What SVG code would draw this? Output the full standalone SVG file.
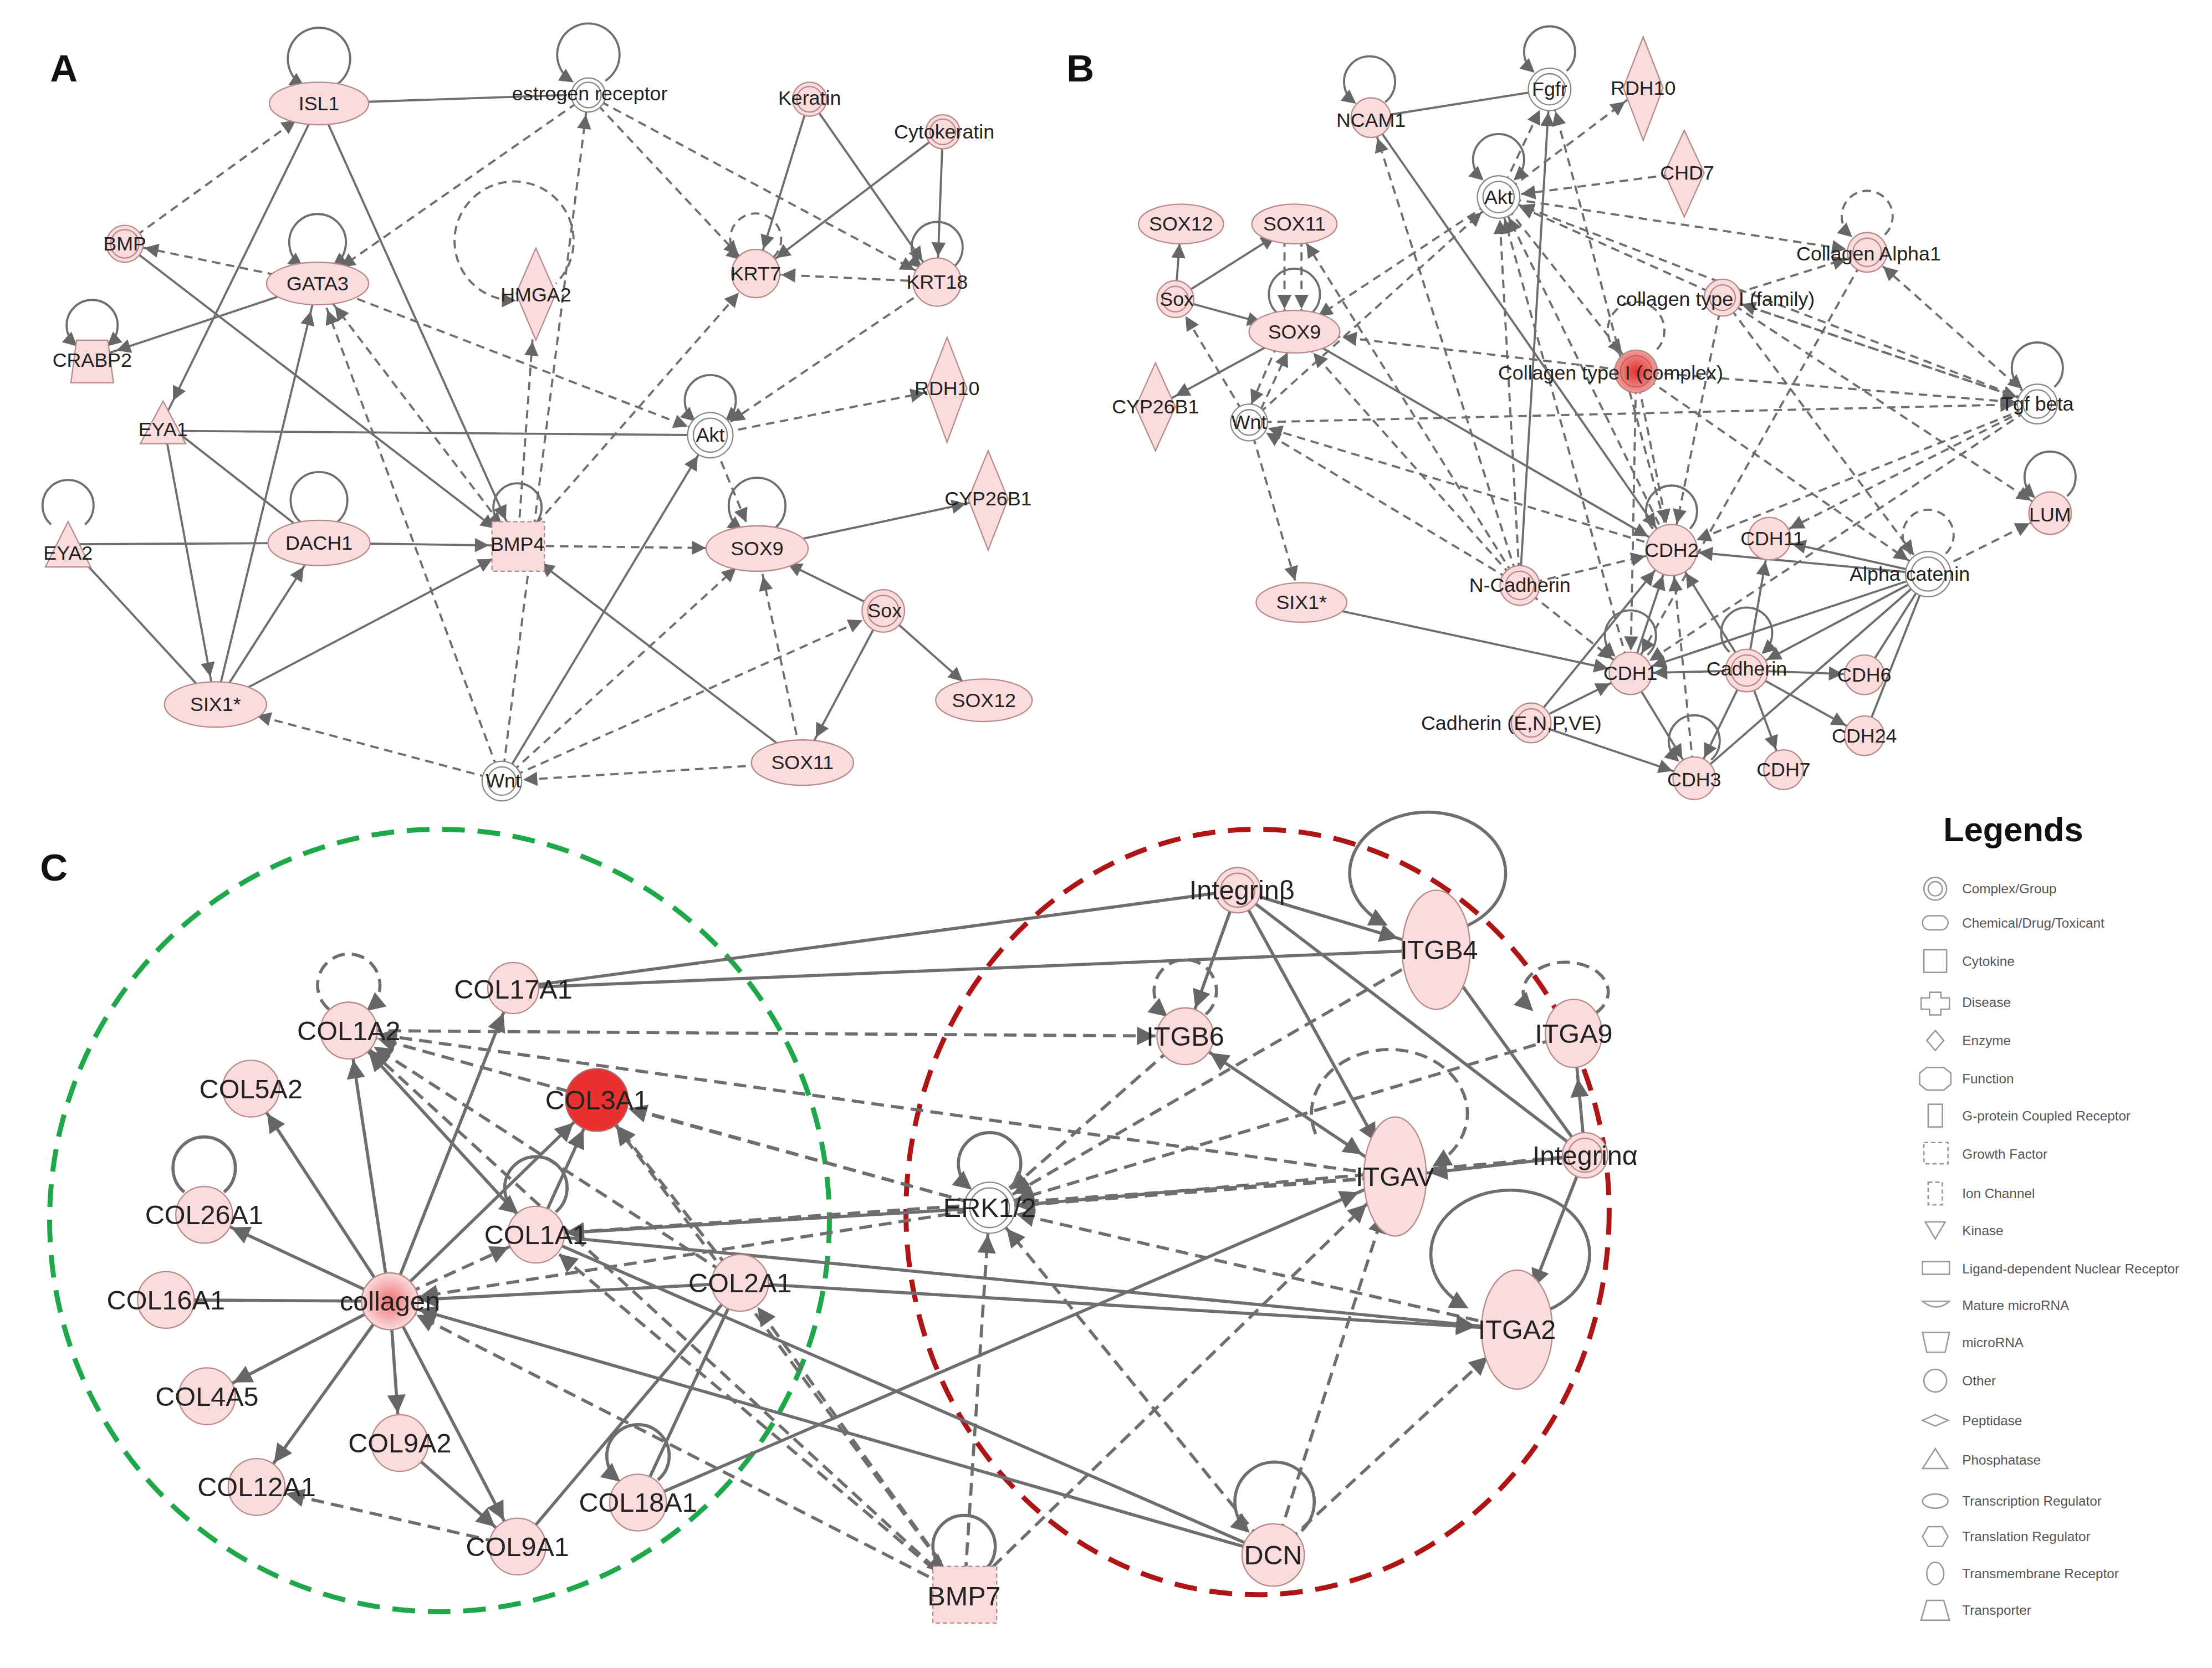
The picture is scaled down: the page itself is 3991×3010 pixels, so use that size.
<svg xmlns="http://www.w3.org/2000/svg" width="3991" height="3010" viewBox="0 0 3991 3010">
<style>
.s{stroke:#6e6e6e;stroke-width:1.5;fill:none}
.d{stroke:#6e6e6e;stroke-width:1.5;fill:none;stroke-dasharray:6,4}
.sc{stroke:#6e6e6e;stroke-width:2.2;fill:none}
.dc{stroke:#6e6e6e;stroke-width:2.2;fill:none;stroke-dasharray:9,5}
.n{fill:#fadcdc;stroke:#b88a8a;stroke-width:0.9}
.w{fill:#fff;stroke:#888;stroke-width:0.9}
.t{font-family:"Liberation Sans",Arial,sans-serif;font-size:14px;fill:#222;text-anchor:middle;dominant-baseline:central}
.tc{font-family:"Liberation Sans",Arial,sans-serif;font-size:19px;fill:#222;text-anchor:middle;dominant-baseline:central}
.lg{font-family:"Liberation Sans",Arial,sans-serif;font-size:9.5px;fill:#555;dominant-baseline:central}
.ls{fill:none;stroke:#999;stroke-width:1}
.pl{font-family:"Liberation Sans",Arial,sans-serif;font-size:27px;font-weight:bold;fill:#111;text-anchor:middle;dominant-baseline:central}
</style>
<defs>
<marker id="a0" markerUnits="userSpaceOnUse" markerWidth="30" markerHeight="20" refX="8" refY="5" orient="auto-start-reverse" overflow="visible"><path d="M0,0L10,5L0,10z" fill="#666"/></marker>
<marker id="a14" markerUnits="userSpaceOnUse" markerWidth="30" markerHeight="20" refX="24" refY="5" orient="auto-start-reverse" overflow="visible"><path d="M0,0L10,5L0,10z" fill="#666"/></marker>
<marker id="a15" markerUnits="userSpaceOnUse" markerWidth="30" markerHeight="20" refX="25" refY="5" orient="auto-start-reverse" overflow="visible"><path d="M0,0L10,5L0,10z" fill="#666"/></marker>
<marker id="a16" markerUnits="userSpaceOnUse" markerWidth="30" markerHeight="20" refX="26" refY="5" orient="auto-start-reverse" overflow="visible"><path d="M0,0L10,5L0,10z" fill="#666"/></marker>
<marker id="a17" markerUnits="userSpaceOnUse" markerWidth="30" markerHeight="20" refX="27" refY="5" orient="auto-start-reverse" overflow="visible"><path d="M0,0L10,5L0,10z" fill="#666"/></marker>
<marker id="a18" markerUnits="userSpaceOnUse" markerWidth="30" markerHeight="20" refX="28" refY="5" orient="auto-start-reverse" overflow="visible"><path d="M0,0L10,5L0,10z" fill="#666"/></marker>
<marker id="a19" markerUnits="userSpaceOnUse" markerWidth="30" markerHeight="20" refX="29" refY="5" orient="auto-start-reverse" overflow="visible"><path d="M0,0L10,5L0,10z" fill="#666"/></marker>
<marker id="a20" markerUnits="userSpaceOnUse" markerWidth="30" markerHeight="20" refX="30" refY="5" orient="auto-start-reverse" overflow="visible"><path d="M0,0L10,5L0,10z" fill="#666"/></marker>
<marker id="a24" markerUnits="userSpaceOnUse" markerWidth="30" markerHeight="20" refX="34" refY="5" orient="auto-start-reverse" overflow="visible"><path d="M0,0L10,5L0,10z" fill="#666"/></marker>
<marker id="a30" markerUnits="userSpaceOnUse" markerWidth="30" markerHeight="20" refX="40" refY="5" orient="auto-start-reverse" overflow="visible"><path d="M0,0L10,5L0,10z" fill="#666"/></marker>
<marker id="a34" markerUnits="userSpaceOnUse" markerWidth="30" markerHeight="20" refX="44" refY="5" orient="auto-start-reverse" overflow="visible"><path d="M0,0L10,5L0,10z" fill="#666"/></marker>
<marker id="a36" markerUnits="userSpaceOnUse" markerWidth="30" markerHeight="20" refX="46" refY="5" orient="auto-start-reverse" overflow="visible"><path d="M0,0L10,5L0,10z" fill="#666"/></marker>
<marker id="c0" markerUnits="userSpaceOnUse" markerWidth="30" markerHeight="20" refX="11" refY="6.5" orient="auto-start-reverse" overflow="visible"><path d="M0,0L13,6.5L0,13z" fill="#666"/></marker>
<marker id="c19" markerUnits="userSpaceOnUse" markerWidth="30" markerHeight="20" refX="32" refY="6.5" orient="auto-start-reverse" overflow="visible"><path d="M0,0L13,6.5L0,13z" fill="#666"/></marker>
<marker id="c21" markerUnits="userSpaceOnUse" markerWidth="30" markerHeight="20" refX="34" refY="6.5" orient="auto-start-reverse" overflow="visible"><path d="M0,0L13,6.5L0,13z" fill="#666"/></marker>
<marker id="c23" markerUnits="userSpaceOnUse" markerWidth="30" markerHeight="20" refX="36" refY="6.5" orient="auto-start-reverse" overflow="visible"><path d="M0,0L13,6.5L0,13z" fill="#666"/></marker>
<marker id="c24" markerUnits="userSpaceOnUse" markerWidth="30" markerHeight="20" refX="37" refY="6.5" orient="auto-start-reverse" overflow="visible"><path d="M0,0L13,6.5L0,13z" fill="#666"/></marker>
<marker id="c28" markerUnits="userSpaceOnUse" markerWidth="30" markerHeight="20" refX="41" refY="6.5" orient="auto-start-reverse" overflow="visible"><path d="M0,0L13,6.5L0,13z" fill="#666"/></marker>
<marker id="c30" markerUnits="userSpaceOnUse" markerWidth="30" markerHeight="20" refX="43" refY="6.5" orient="auto-start-reverse" overflow="visible"><path d="M0,0L13,6.5L0,13z" fill="#666"/></marker>
<marker id="c32" markerUnits="userSpaceOnUse" markerWidth="30" markerHeight="20" refX="45" refY="6.5" orient="auto-start-reverse" overflow="visible"><path d="M0,0L13,6.5L0,13z" fill="#666"/></marker>
<radialGradient id="red1"><stop offset="0" stop-color="#e0302a"/><stop offset="1" stop-color="#f29a98"/></radialGradient>
<radialGradient id="red2"><stop offset="0" stop-color="#f07070"/><stop offset="1" stop-color="#fadcdc"/></radialGradient>
</defs>
<rect width="3991" height="3010" fill="#fff"/>
<g transform="scale(2.558)">
<text class="pl" x="45" y="48">A</text>
<text class="pl" x="762" y="48">B</text>
<text class="pl" x="38" y="612">C</text>

<g id="connectors-A">
<line class="s" x1="225" y1="73" x2="400" y2="67"/>
<line class="d" x1="88" y1="172" x2="225" y2="73" marker-end="url(#a20)"/>
<line class="s" x1="225" y1="73" x2="115" y2="297" marker-end="url(#a16)"/>
<line class="s" x1="225" y1="73" x2="365" y2="385" marker-end="url(#a20)"/>
<line class="d" x1="415" y1="67" x2="224" y2="200" marker-end="url(#a20)"/>
<line class="d" x1="415" y1="67" x2="533" y2="193" marker-end="url(#a18)"/>
<line class="d" x1="415" y1="67" x2="661" y2="199" marker-end="url(#a18)"/>
<line class="d" x1="354" y1="551" x2="415" y2="67" marker-end="url(#a14)"/>
<line class="s" x1="571" y1="70" x2="533" y2="193" marker-end="url(#a18)"/>
<line class="s" x1="571" y1="70" x2="661" y2="199" marker-end="url(#a18)"/>
<line class="s" x1="665" y1="93" x2="533" y2="193" marker-end="url(#a18)"/>
<line class="s" x1="665" y1="93" x2="661" y2="199" marker-end="url(#a18)"/>
<line class="d" x1="661" y1="199" x2="533" y2="193" marker-end="url(#a18)"/>
<line class="d" x1="661" y1="199" x2="501" y2="307" marker-end="url(#a17)"/>
<line class="d" x1="224" y1="200" x2="88" y2="172" marker-end="url(#a14)"/>
<line class="s" x1="224" y1="200" x2="65" y2="253" marker-end="url(#a18)"/>
<line class="d" x1="224" y1="200" x2="501" y2="307" marker-end="url(#a17)"/>
<line class="s" x1="88" y1="172" x2="365" y2="385" marker-end="url(#a20)"/>
<line class="s" x1="152" y1="497" x2="224" y2="200" marker-end="url(#a20)"/>
<line class="d" x1="365" y1="385" x2="224" y2="200" marker-end="url(#a20)"/>
<line class="d" x1="354" y1="551" x2="224" y2="200" marker-end="url(#a20)"/>
<line class="d" x1="365" y1="385" x2="378" y2="207" marker-end="url(#a34)"/>
<line class="d" x1="365" y1="385" x2="533" y2="193" marker-end="url(#a18)"/>
<line class="s" x1="501" y1="307" x2="128" y2="304"/>
<line class="d" x1="501" y1="307" x2="668" y2="274" marker-end="url(#a16)"/>
<line class="d" x1="501" y1="307" x2="534" y2="387" marker-end="url(#a20)"/>
<line class="s" x1="115" y1="297" x2="152" y2="497" marker-end="url(#a20)"/>
<line class="s" x1="225" y1="383" x2="115" y2="297"/>
<line class="s" x1="48" y1="384" x2="225" y2="383"/>
<line class="s" x1="48" y1="384" x2="152" y2="497"/>
<line class="s" x1="225" y1="383" x2="365" y2="385" marker-end="url(#a20)"/>
<line class="s" x1="152" y1="497" x2="225" y2="383" marker-end="url(#a20)"/>
<line class="s" x1="152" y1="497" x2="365" y2="385" marker-end="url(#a20)"/>
<line class="d" x1="365" y1="385" x2="534" y2="387" marker-end="url(#a36)"/>
<line class="s" x1="534" y1="387" x2="697" y2="352" marker-end="url(#a16)"/>
<line class="s" x1="623" y1="431" x2="534" y2="387" marker-end="url(#a24)"/>
<line class="s" x1="623" y1="431" x2="694" y2="494" marker-end="url(#a20)"/>
<line class="s" x1="623" y1="431" x2="566" y2="538" marker-end="url(#a20)"/>
<line class="d" x1="566" y1="538" x2="534" y2="387" marker-end="url(#a20)"/>
<line class="s" x1="566" y1="538" x2="365" y2="385" marker-end="url(#a20)"/>
<line class="d" x1="566" y1="538" x2="354" y2="551" marker-end="url(#a15)"/>
<line class="d" x1="354" y1="551" x2="152" y2="497" marker-end="url(#a30)"/>
<line class="s" x1="354" y1="551" x2="501" y2="307" marker-end="url(#a17)"/>
<line class="d" x1="354" y1="551" x2="534" y2="387" marker-end="url(#a20)"/>
<line class="d" x1="354" y1="551" x2="623" y2="431" marker-end="url(#a16)"/>
<path class="s" d="M213,60 A22 22 0 1 1 237,60" marker-start="url(#a0)"/>
<path class="s" d="M403,57 A22 22 0 1 1 427,57" marker-start="url(#a0)"/>
<path class="s" d="M212,187 A20 20 0 1 1 236,187" marker-start="url(#a0)" marker-end="url(#a0)"/>
<path class="d" d="M362,212 A42 42 0 1 1 392,200" marker-start="url(#a0)"/>
<path class="d" d="M521,182 A18 18 0 1 1 545,182" marker-start="url(#a0)"/>
<path class="s" d="M649,188 A18 18 0 1 1 673,188" marker-start="url(#a0)"/>
<path class="s" d="M53,243 A18 18 0 1 1 77,243" marker-start="url(#a0)" marker-end="url(#a0)"/>
<path class="s" d="M489,296 A18 18 0 1 1 513,296" marker-start="url(#a0)" marker-end="url(#a0)"/>
<path class="s" d="M36,370 A18 18 0 1 1 60,370"/>
<path class="s" d="M213,369 A20 20 0 1 1 237,369"/>
<path class="s" d="M353,370 A17 17 0 1 1 377,370" marker-start="url(#a0)"/>
<path class="s" d="M522,373 A20 20 0 1 1 546,373" marker-start="url(#a0)"/>
</g>

<g id="nodes-A">
<g id="A-ISL1"><ellipse class="n" cx="225" cy="73" rx="35" ry="15"/><text class="t" x="225" y="73">ISL1</text></g>
<g id="A-ER"><circle class="w" cx="415" cy="67" r="12"/><circle class="w" cx="415" cy="67" r="9"/><text class="t" x="416" y="66">estrogen receptor</text></g>
<g id="A-Keratin"><circle class="n" cx="571" cy="70" r="12"/><circle class="n" cx="571" cy="70" r="9"/><text class="t" x="571" y="69">Keratin</text></g>
<g id="A-Cytokeratin"><circle class="n" cx="665" cy="93" r="12"/><circle class="n" cx="665" cy="93" r="9"/><text class="t" x="666" y="93">Cytokeratin</text></g>
<g id="A-BMP"><circle class="n" cx="88" cy="172" r="13"/><circle class="n" cx="88" cy="172" r="10"/><text class="t" x="88" y="172">BMP</text></g>
<g id="A-GATA3"><ellipse class="n" cx="224" cy="200" rx="36" ry="15"/><text class="t" x="224" y="200">GATA3</text></g>
<g id="A-HMGA2"><path class="n" d="M378,175 L392,207 L378,240 L364,207z"/><text class="t" x="378" y="208">HMGA2</text></g>
<g id="A-KRT7"><circle class="n" cx="533" cy="193" r="17"/><text class="t" x="533" y="193">KRT7</text></g>
<g id="A-KRT18"><circle class="n" cx="661" cy="199" r="17"/><text class="t" x="661" y="199">KRT18</text></g>
<g id="A-CRABP2"><path class="n" d="M54,240 L76,240 L80,270 L50,270z"/><text class="t" x="65" y="254">CRABP2</text></g>
<g id="A-RDH10"><path class="n" d="M668,238 L682,274 L668,312 L654,274z"/><text class="t" x="668" y="274">RDH10</text></g>
<g id="A-Akt"><circle class="w" cx="501" cy="307" r="16"/><circle class="w" cx="501" cy="307" r="12"/><text class="t" x="501" y="307">Akt</text></g>
<g id="A-EYA1"><path class="n" d="M115,283 L131,313 L99,313z"/><text class="t" x="115" y="303">EYA1</text></g>
<g id="A-EYA2"><path class="n" d="M48,368 L64,400 L32,400z"/><text class="t" x="48" y="390">EYA2</text></g>
<g id="A-DACH1"><ellipse class="n" cx="225" cy="383" rx="36" ry="16"/><text class="t" x="225" y="383">DACH1</text></g>
<g id="A-BMP4"><rect class="n" x="347" y="368" width="37" height="35" stroke-dasharray="3,2"/><text class="t" x="365" y="384">BMP4</text></g>
<g id="A-CYP26B1"><path class="n" d="M697,318 L711,352 L697,388 L683,352z"/><text class="t" x="697" y="352">CYP26B1</text></g>
<g id="A-SOX9"><ellipse class="n" cx="534" cy="387" rx="36" ry="16"/><text class="t" x="534" y="387">SOX9</text></g>
<g id="A-Sox"><circle class="n" cx="623" cy="431" r="15"/><circle class="n" cx="623" cy="431" r="11"/><text class="t" x="624" y="431">Sox</text></g>
<g id="A-SIX1"><ellipse class="n" cx="152" cy="497" rx="36" ry="16"/><text class="t" x="152" y="497">SIX1*</text></g>
<g id="A-SOX12"><ellipse class="n" cx="694" cy="494" rx="34" ry="15"/><text class="t" x="694" y="494">SOX12</text></g>
<g id="A-SOX11"><ellipse class="n" cx="566" cy="538" rx="36" ry="16"/><text class="t" x="566" y="538">SOX11</text></g>
<g id="A-Wnt"><circle class="w" cx="354" cy="551" r="14"/><circle class="w" cx="354" cy="551" r="10"/><text class="t" x="355" y="551">Wnt</text></g>
</g>

<g id="connectors-B">
<line class="s" x1="967" y1="83" x2="1093" y2="63"/>
<line class="d" x1="1057" y1="139" x2="1159" y2="62" marker-end="url(#a16)"/>
<line class="d" x1="1057" y1="139" x2="1093" y2="63" marker-end="url(#a16)"/>
<line class="d" x1="1188" y1="122" x2="1057" y2="139" marker-end="url(#a16)"/>
<line class="d" x1="1057" y1="139" x2="1317" y2="178" marker-end="url(#a15)"/>
<line class="d" x1="1215" y1="210" x2="1057" y2="139" marker-end="url(#a16)"/>
<line class="d" x1="1437" y1="285" x2="1057" y2="139" marker-end="url(#a16)"/>
<line class="d" x1="1057" y1="139" x2="1154" y2="262" marker-end="url(#a16)"/>
<line class="d" x1="1057" y1="139" x2="913" y2="234" marker-end="url(#a20)"/>
<line class="d" x1="881" y1="298" x2="1057" y2="139" marker-end="url(#a16)"/>
<line class="s" x1="829" y1="211" x2="833" y2="158" marker-end="url(#a14)"/>
<line class="s" x1="829" y1="211" x2="913" y2="158" marker-end="url(#a16)"/>
<line class="s" x1="829" y1="211" x2="913" y2="234" marker-end="url(#a24)"/>
<line class="d" x1="906" y1="158" x2="906" y2="234" marker-end="url(#a16)"/>
<line class="d" x1="918" y1="158" x2="918" y2="234" marker-end="url(#a16)"/>
<line class="s" x1="913" y1="234" x2="815" y2="287" marker-end="url(#a16)"/>
<line class="d" x1="905" y1="234" x2="877" y2="298" marker-end="url(#a14)"/>
<line class="d" x1="885" y1="298" x2="915" y2="234" marker-end="url(#a16)"/>
<line class="d" x1="881" y1="298" x2="829" y2="211" marker-end="url(#a14)"/>
<line class="d" x1="881" y1="298" x2="918" y2="425" marker-end="url(#a16)"/>
<line class="d" x1="1072" y1="413" x2="913" y2="158" marker-end="url(#a16)"/>
<line class="d" x1="1072" y1="413" x2="913" y2="234" marker-end="url(#a20)"/>
<line class="s" x1="913" y1="234" x2="1179" y2="388" marker-end="url(#a19)"/>
<line class="d" x1="1154" y1="262" x2="913" y2="234" marker-end="url(#a34)"/>
<line class="d" x1="881" y1="298" x2="1437" y2="285" marker-end="url(#a16)"/>
<line class="d" x1="1179" y1="388" x2="881" y2="298" marker-end="url(#a14)"/>
<line class="d" x1="1072" y1="413" x2="881" y2="298" marker-end="url(#a14)"/>
<line class="s" x1="967" y1="83" x2="1179" y2="388" marker-end="url(#a19)"/>
<line class="d" x1="1072" y1="413" x2="967" y2="83" marker-end="url(#a15)"/>
<line class="s" x1="1072" y1="413" x2="1093" y2="63" marker-end="url(#a16)"/>
<line class="d" x1="1179" y1="388" x2="1093" y2="63" marker-end="url(#a16)"/>
<line class="d" x1="1072" y1="413" x2="1057" y2="139" marker-end="url(#a16)"/>
<line class="d" x1="1179" y1="388" x2="1057" y2="139" marker-end="url(#a16)"/>
<line class="d" x1="1150" y1="475" x2="1057" y2="139" marker-end="url(#a16)"/>
<line class="d" x1="1154" y1="262" x2="1179" y2="388" marker-end="url(#a19)"/>
<line class="d" x1="1154" y1="262" x2="1150" y2="475" marker-end="url(#a16)"/>
<line class="d" x1="1154" y1="262" x2="1360" y2="405" marker-end="url(#a17)"/>
<line class="d" x1="1154" y1="262" x2="1437" y2="285" marker-end="url(#a15)"/>
<line class="d" x1="1215" y1="210" x2="1317" y2="178" marker-end="url(#a15)"/>
<line class="d" x1="1215" y1="210" x2="1437" y2="285" marker-end="url(#a15)"/>
<line class="d" x1="1215" y1="210" x2="1179" y2="388" marker-end="url(#a19)"/>
<line class="d" x1="1215" y1="210" x2="1360" y2="405" marker-end="url(#a17)"/>
<line class="d" x1="1215" y1="210" x2="1446" y2="362" marker-end="url(#a16)"/>
<line class="d" x1="1317" y1="178" x2="1150" y2="475" marker-end="url(#a16)"/>
<line class="d" x1="1437" y1="285" x2="1317" y2="178" marker-end="url(#a15)"/>
<line class="d" x1="1437" y1="285" x2="1179" y2="388" marker-end="url(#a19)"/>
<line class="d" x1="1437" y1="285" x2="1248" y2="380" marker-end="url(#a16)"/>
<line class="d" x1="1437" y1="285" x2="1150" y2="475" marker-end="url(#a16)"/>
<line class="d" x1="1437" y1="285" x2="1215" y2="210" marker-end="url(#a14)"/>
<line class="d" x1="1360" y1="405" x2="1446" y2="362" marker-end="url(#a16)"/>
<line class="s" x1="1360" y1="405" x2="1179" y2="388" marker-end="url(#a19)"/>
<line class="s" x1="1360" y1="405" x2="1248" y2="380" marker-end="url(#a16)"/>
<line class="s" x1="1360" y1="405" x2="1150" y2="475" marker-end="url(#a16)"/>
<line class="s" x1="1360" y1="405" x2="1232" y2="473" marker-end="url(#a16)"/>
<line class="s" x1="1360" y1="405" x2="1315" y2="476"/>
<line class="s" x1="1360" y1="405" x2="1315" y2="519"/>
<line class="s" x1="1360" y1="405" x2="1195" y2="549"/>
<line class="s" x1="918" y1="425" x2="1150" y2="475" marker-end="url(#a16)"/>
<line class="s" x1="1150" y1="475" x2="1179" y2="388" marker-end="url(#a19)"/>
<line class="s" x1="1232" y1="473" x2="1179" y2="388" marker-end="url(#a19)"/>
<line class="d" x1="1195" y1="549" x2="1179" y2="388" marker-end="url(#a19)"/>
<line class="d" x1="1072" y1="413" x2="1179" y2="388" marker-end="url(#a19)"/>
<line class="d" x1="1072" y1="413" x2="1150" y2="475" marker-end="url(#a16)"/>
<line class="s" x1="1232" y1="473" x2="1150" y2="475" marker-end="url(#a16)"/>
<line class="s" x1="1232" y1="473" x2="1315" y2="476" marker-end="url(#a15)"/>
<line class="s" x1="1232" y1="473" x2="1315" y2="519" marker-end="url(#a15)"/>
<line class="s" x1="1232" y1="473" x2="1258" y2="543" marker-end="url(#a15)"/>
<line class="s" x1="1232" y1="473" x2="1195" y2="549" marker-end="url(#a16)"/>
<line class="s" x1="1232" y1="473" x2="1248" y2="380" marker-end="url(#a16)"/>
<line class="s" x1="1080" y1="510" x2="1150" y2="475" marker-end="url(#a16)"/>
<line class="s" x1="1080" y1="510" x2="1195" y2="549" marker-end="url(#a16)"/>
<line class="s" x1="1080" y1="510" x2="1179" y2="388" marker-end="url(#a19)"/>
<line class="s" x1="1150" y1="475" x2="1195" y2="549" marker-end="url(#a16)"/>
<path class="s" d="M955,72 A18 18 0 1 1 977,72" marker-start="url(#a0)"/>
<path class="s" d="M1081,50 A18 18 0 1 1 1105,50" marker-start="url(#a0)"/>
<path class="s" d="M1045,126 A18 18 0 1 1 1069,126" marker-start="url(#a0)" marker-end="url(#a0)"/>
<path class="s" d="M901,221 A18 18 0 1 1 925,221"/>
<path class="d" d="M1305,166 A18 18 0 1 1 1329,166" marker-start="url(#a0)"/>
<path class="d" d="M1142,249 A20 20 0 1 1 1166,249"/>
<path class="s" d="M1425,273 A18 18 0 1 1 1449,273" marker-start="url(#a0)"/>
<path class="s" d="M1434,350 A18 18 0 1 1 1458,350" marker-start="url(#a0)"/>
<path class="s" d="M1166,373 A18 18 0 1 1 1192,373"/>
<path class="d" d="M1348,391 A18 18 0 1 1 1372,391"/>
<path class="s" d="M1138,462 A18 18 0 1 1 1162,462" marker-start="url(#a0)"/>
<path class="s" d="M1220,460 A18 18 0 1 1 1244,460" marker-end="url(#a0)"/>
<path class="s" d="M1183,536 A18 18 0 1 1 1207,536" marker-start="url(#a0)"/>
</g>

<g id="nodes-B">
<g id="B-NCAM1"><circle class="n" cx="967" cy="83" r="14"/><text class="t" x="967" y="85">NCAM1</text></g>
<g id="B-Fgfr"><circle class="w" cx="1093" cy="63" r="15"/><circle class="w" cx="1093" cy="63" r="11"/><text class="t" x="1093" y="63">Fgfr</text></g>
<g id="B-RDH10"><path class="n" d="M1159,26 L1173,62 L1159,99 L1145,62z"/><text class="t" x="1159" y="62">RDH10</text></g>
<g id="B-CHD7"><path class="n" d="M1188,92 L1202,122 L1188,153 L1174,122z"/><text class="t" x="1190" y="122">CHD7</text></g>
<g id="B-Akt"><circle class="w" cx="1057" cy="139" r="15"/><circle class="w" cx="1057" cy="139" r="11"/><text class="t" x="1057" y="139">Akt</text></g>
<g id="B-SOX12"><ellipse class="n" cx="833" cy="158" rx="30" ry="14"/><text class="t" x="833" y="158">SOX12</text></g>
<g id="B-SOX11"><ellipse class="n" cx="913" cy="158" rx="30" ry="14"/><text class="t" x="913" y="158">SOX11</text></g>
<g id="B-CA1"><circle class="n" cx="1317" cy="178" r="14"/><circle class="n" cx="1317" cy="178" r="10"/><text class="t" x="1318" y="179">Collagen Alpha1</text></g>
<g id="B-Sox"><circle class="n" cx="829" cy="211" r="13"/><circle class="n" cx="829" cy="211" r="9"/><text class="t" x="830" y="211">Sox</text></g>
<g id="B-CF"><circle class="n" cx="1215" cy="210" r="13"/><circle class="n" cx="1215" cy="210" r="9"/><text class="t" x="1210" y="211">collagen type I (family)</text></g>
<g id="B-SOX9"><ellipse class="n" cx="913" cy="234" rx="32" ry="15"/><text class="t" x="913" y="234">SOX9</text></g>
<g id="B-CC"><circle cx="1154" cy="262" r="15" fill="url(#red1)" stroke="#b88a8a"/><circle cx="1154" cy="262" r="11" fill="none" stroke="#c06060" stroke-width="0.8"/><text class="t" x="1136" y="263">Collagen type I (complex)</text></g>
<g id="B-CYP26B1"><path class="n" d="M815,256 L829,287 L815,318 L801,287z"/><text class="t" x="815" y="287">CYP26B1</text></g>
<g id="B-Wnt"><circle class="w" cx="881" cy="298" r="13"/><circle class="w" cx="881" cy="298" r="9"/><text class="t" x="881" y="298">Wnt</text></g>
<g id="B-Tgf"><circle class="w" cx="1437" cy="285" r="14"/><circle class="w" cx="1437" cy="285" r="10"/><text class="t" x="1437" y="285">Tgf beta</text></g>
<g id="B-LUM"><circle class="n" cx="1446" cy="362" r="15"/><text class="t" x="1446" y="363">LUM</text></g>
<g id="B-CDH2"><circle class="n" cx="1179" cy="388" r="18"/><text class="t" x="1179" y="388">CDH2</text></g>
<g id="B-CDH11"><circle class="n" cx="1248" cy="380" r="15"/><text class="t" x="1250" y="380">CDH11</text></g>
<g id="B-AC"><circle class="w" cx="1360" cy="405" r="16"/><circle class="w" cx="1360" cy="405" r="12"/><text class="t" x="1347" y="405">Alpha catenin</text></g>
<g id="B-NCad"><circle class="n" cx="1072" cy="413" r="14"/><circle class="n" cx="1072" cy="413" r="10"/><text class="t" x="1072" y="413">N-Cadherin</text></g>
<g id="B-SIX1"><ellipse class="n" cx="918" cy="425" rx="32" ry="14"/><text class="t" x="918" y="425">SIX1*</text></g>
<g id="B-CDH1"><circle class="n" cx="1150" cy="475" r="15"/><text class="t" x="1150" y="475">CDH1</text></g>
<g id="B-Cadherin"><circle class="n" cx="1232" cy="473" r="15"/><circle class="n" cx="1232" cy="473" r="11"/><text class="t" x="1232" y="472">Cadherin</text></g>
<g id="B-CDH6"><circle class="n" cx="1315" cy="476" r="14"/><text class="t" x="1315" y="476">CDH6</text></g>
<g id="B-CENP"><circle class="n" cx="1080" cy="510" r="14"/><circle class="n" cx="1080" cy="510" r="10"/><text class="t" x="1066" y="510">Cadherin (E,N,P,VE)</text></g>
<g id="B-CDH24"><circle class="n" cx="1315" cy="519" r="14"/><text class="t" x="1315" y="519">CDH24</text></g>
<g id="B-CDH3"><circle class="n" cx="1195" cy="549" r="15"/><text class="t" x="1195" y="550">CDH3</text></g>
<g id="B-CDH7"><circle class="n" cx="1258" cy="543" r="14"/><text class="t" x="1258" y="543">CDH7</text></g>
</g>

<ellipse cx="310" cy="861" rx="275" ry="276" fill="none" stroke="#1fa84a" stroke-width="3.5" stroke-dasharray="16,9"/>
<ellipse cx="887" cy="855" rx="248" ry="270" fill="none" stroke="#b01515" stroke-width="3.5" stroke-dasharray="16,9"/>

<g id="connectors-C">
<line class="sc" x1="362" y1="697" x2="873" y2="628"/>
<line class="sc" x1="362" y1="697" x2="1013" y2="670"/>
<line class="sc" x1="873" y1="628" x2="1013" y2="670" marker-end="url(#c28)"/>
<line class="sc" x1="873" y1="628" x2="836" y2="731" marker-end="url(#c21)"/>
<line class="sc" x1="873" y1="628" x2="984" y2="830" marker-end="url(#c28)"/>
<line class="sc" x1="873" y1="628" x2="1118" y2="815"/>
<line class="sc" x1="1013" y1="670" x2="1118" y2="815"/>
<line class="sc" x1="1118" y1="815" x2="1110" y2="729" marker-end="url(#c32)"/>
<line class="sc" x1="1118" y1="815" x2="984" y2="830" marker-end="url(#c24)"/>
<line class="sc" x1="1118" y1="815" x2="1070" y2="938" marker-end="url(#c32)"/>
<line class="sc" x1="836" y1="731" x2="984" y2="830" marker-start="url(#c21)" marker-end="url(#c28)"/>
<line class="dc" x1="246" y1="727" x2="836" y2="731" marker-end="url(#c21)"/>
<line class="dc" x1="836" y1="731" x2="698" y2="852" marker-end="url(#c19)"/>
<line class="dc" x1="1013" y1="670" x2="698" y2="852" marker-end="url(#c19)"/>
<line class="dc" x1="1110" y1="729" x2="698" y2="852" marker-end="url(#c19)"/>
<line class="dc" x1="984" y1="830" x2="698" y2="852" marker-end="url(#c19)"/>
<line class="dc" x1="984" y1="830" x2="246" y2="727" marker-end="url(#c21)"/>
<line class="dc" x1="984" y1="830" x2="378" y2="871" marker-end="url(#c21)"/>
<line class="dc" x1="1118" y1="815" x2="698" y2="852" marker-end="url(#c19)"/>
<line class="dc" x1="1070" y1="938" x2="698" y2="852" marker-end="url(#c19)"/>
<line class="dc" x1="698" y1="852" x2="246" y2="727" marker-end="url(#c21)"/>
<line class="dc" x1="698" y1="852" x2="421" y2="776" marker-end="url(#c23)"/>
<line class="sc" x1="698" y1="852" x2="378" y2="871" marker-end="url(#c21)"/>
<line class="dc" x1="698" y1="852" x2="275" y2="918" marker-end="url(#c21)"/>
<line class="sc" x1="378" y1="871" x2="421" y2="776" marker-end="url(#c23)"/>
<line class="sc" x1="378" y1="871" x2="246" y2="727" marker-end="url(#c21)"/>
<line class="sc" x1="378" y1="871" x2="1070" y2="938" marker-end="url(#c30)"/>
<line class="sc" x1="522" y1="905" x2="1070" y2="938" marker-end="url(#c30)"/>
<line class="dc" x1="522" y1="905" x2="246" y2="727" marker-end="url(#c21)"/>
<line class="dc" x1="522" y1="905" x2="421" y2="776" marker-end="url(#c23)"/>
<line class="sc" x1="275" y1="918" x2="362" y2="697" marker-end="url(#c19)"/>
<line class="sc" x1="275" y1="918" x2="246" y2="727" marker-end="url(#c21)"/>
<line class="sc" x1="275" y1="918" x2="177" y2="768" marker-end="url(#c21)"/>
<line class="sc" x1="275" y1="918" x2="144" y2="857" marker-end="url(#c21)"/>
<line class="sc" x1="275" y1="918" x2="117" y2="917"/>
<line class="sc" x1="275" y1="918" x2="146" y2="985" marker-end="url(#c21)"/>
<line class="sc" x1="275" y1="918" x2="181" y2="1049" marker-end="url(#c21)"/>
<line class="sc" x1="275" y1="918" x2="282" y2="1018" marker-end="url(#c21)"/>
<line class="sc" x1="275" y1="918" x2="365" y2="1091" marker-end="url(#c21)"/>
<line class="sc" x1="275" y1="918" x2="421" y2="776" marker-end="url(#c23)"/>
<line class="dc" x1="275" y1="918" x2="378" y2="871" marker-end="url(#c21)"/>
<line class="sc" x1="522" y1="905" x2="275" y2="918" marker-end="url(#c21)"/>
<line class="sc" x1="898" y1="1097" x2="275" y2="918" marker-end="url(#c21)"/>
<line class="sc" x1="898" y1="1097" x2="378" y2="871"/>
<line class="dc" x1="898" y1="1097" x2="984" y2="830" marker-end="url(#c28)"/>
<line class="dc" x1="898" y1="1097" x2="1070" y2="938" marker-end="url(#c28)"/>
<line class="dc" x1="898" y1="1097" x2="698" y2="852" marker-end="url(#c19)"/>
<line class="sc" x1="450" y1="1060" x2="984" y2="830" marker-end="url(#c28)"/>
<line class="sc" x1="282" y1="1018" x2="365" y2="1091" marker-end="url(#c21)"/>
<line class="dc" x1="365" y1="1091" x2="181" y2="1049" marker-end="url(#c21)"/>
<line class="sc" x1="365" y1="1091" x2="522" y2="905"/>
<line class="sc" x1="450" y1="1060" x2="522" y2="905"/>
<line class="dc" x1="680" y1="1125" x2="246" y2="727" marker-end="url(#c21)"/>
<line class="dc" x1="680" y1="1125" x2="421" y2="776" marker-end="url(#c23)"/>
<line class="dc" x1="680" y1="1125" x2="378" y2="871" marker-end="url(#c21)"/>
<line class="dc" x1="680" y1="1125" x2="275" y2="918" marker-end="url(#c21)"/>
<line class="dc" x1="680" y1="1125" x2="522" y2="905" marker-end="url(#c21)"/>
<line class="dc" x1="680" y1="1125" x2="698" y2="852" marker-end="url(#c19)"/>
<line class="dc" x1="680" y1="1125" x2="984" y2="830" marker-end="url(#c28)"/>
<path class="dc" d="M232,712 A22 22 0 1 1 260,712" marker-end="url(#c0)"/>
<path class="sc" d="M1030,655 A55 43 0 1 0 977,652" marker-end="url(#c0)"/>
<path class="dc" d="M822,716 A22 22 0 1 1 850,716" marker-start="url(#c0)"/>
<path class="dc" d="M1125,715 A30 21 0 1 0 1080,712" marker-end="url(#c0)"/>
<path class="dc" d="M928,800 A55 45 0 1 1 1012,822" marker-end="url(#c0)"/>
<path class="sc" d="M684,838 A22 22 0 1 1 712,838" marker-start="url(#c0)"/>
<path class="sc" d="M364,855 A22 22 0 1 1 392,855" marker-start="url(#c0)"/>
<path class="sc" d="M130,841 A22 22 0 1 1 158,841"/>
<path class="sc" d="M1090,925 A56 45 0 1 0 1034,922" marker-end="url(#c0)"/>
<path class="sc" d="M436,1044 A22 22 0 1 1 464,1044" marker-start="url(#c0)"/>
<path class="sc" d="M880,1080 A28 28 0 1 1 918,1080" marker-start="url(#c0)"/>
<path class="sc" d="M666,1108 A22 22 0 1 1 694,1108" marker-start="url(#c0)"/>
</g>

<g id="nodes-C">
<g id="C-Integrinb"><circle class="n" cx="873" cy="628" r="16"/><circle class="n" cx="873" cy="628" r="12"/><text class="tc" x="876" y="628">Integrinβ</text></g>
<g id="C-ITGB4"><ellipse class="n" cx="1013" cy="670" rx="24" ry="42"/><text class="tc" x="1015" y="670">ITGB4</text></g>
<g id="C-COL17A1"><circle class="n" cx="362" cy="697" r="18"/><text class="tc" x="362" y="698">COL17A1</text></g>
<g id="C-COL1A2"><circle class="n" cx="246" cy="727" r="20"/><text class="tc" x="246" y="727">COL1A2</text></g>
<g id="C-ITGB6"><circle class="n" cx="836" cy="731" r="20"/><text class="tc" x="836" y="731">ITGB6</text></g>
<g id="C-ITGA9"><ellipse class="n" cx="1110" cy="729" rx="20" ry="24"/><text class="tc" x="1110" y="729">ITGA9</text></g>
<g id="C-COL5A2"><circle class="n" cx="177" cy="768" r="20"/><text class="tc" x="177" y="768">COL5A2</text></g>
<g id="C-COL3A1"><circle cx="421" cy="776" r="22" fill="#e8302e" stroke="#b06060"/><text class="tc" x="421" y="776">COL3A1</text></g>
<g id="C-ITGAV"><ellipse class="n" cx="984" cy="830" rx="22" ry="42"/><text class="tc" x="984" y="830">ITGAV</text></g>
<g id="C-Integrina"><circle class="n" cx="1118" cy="815" r="16"/><circle class="n" cx="1118" cy="815" r="12"/><text class="tc" x="1118" y="815">Integrinα</text></g>
<g id="C-ERK"><circle class="w" cx="698" cy="852" r="18"/><circle class="w" cx="698" cy="852" r="14"/><text class="tc" x="698" y="852">ERK1/2</text></g>
<g id="C-COL1A1"><circle class="n" cx="378" cy="871" r="20"/><text class="tc" x="378" y="871">COL1A1</text></g>
<g id="C-COL26A1"><circle class="n" cx="144" cy="857" r="20"/><text class="tc" x="144" y="857">COL26A1</text></g>
<g id="C-ITGA2"><ellipse class="n" cx="1070" cy="938" rx="25" ry="42"/><text class="tc" x="1070" y="938">ITGA2</text></g>
<g id="C-COL16A1"><circle class="n" cx="117" cy="917" r="20"/><text class="tc" x="117" y="917">COL16A1</text></g>
<g id="C-collagen"><circle cx="275" cy="918" r="20" fill="url(#red2)" stroke="#b88a8a"/><text class="tc" x="275" y="918">collagen</text></g>
<g id="C-COL2A1"><circle class="n" cx="522" cy="905" r="20"/><text class="tc" x="522" y="905">COL2A1</text></g>
<g id="C-COL4A5"><circle class="n" cx="146" cy="985" r="20"/><text class="tc" x="146" y="985">COL4A5</text></g>
<g id="C-COL9A2"><circle class="n" cx="282" cy="1018" r="20"/><text class="tc" x="282" y="1018">COL9A2</text></g>
<g id="C-COL12A1"><circle class="n" cx="181" cy="1049" r="20"/><text class="tc" x="181" y="1049">COL12A1</text></g>
<g id="C-COL18A1"><circle class="n" cx="450" cy="1060" r="20"/><text class="tc" x="450" y="1060">COL18A1</text></g>
<g id="C-COL9A1"><circle class="n" cx="365" cy="1091" r="20"/><text class="tc" x="365" y="1091">COL9A1</text></g>
<g id="C-DCN"><circle class="n" cx="898" cy="1097" r="22"/><text class="tc" x="898" y="1097">DCN</text></g>
<g id="C-BMP7"><rect class="n" x="658" y="1105" width="45" height="40" stroke-dasharray="3,2"/><text class="tc" x="680" y="1126">BMP7</text></g>
</g>

<g id="legend">
<text x="1420" y="585" font-family="Liberation Sans, Arial, sans-serif" font-size="24" font-weight="bold" fill="#111" text-anchor="middle" dominant-baseline="central">Legends</text>
<circle class="ls" cx="1365" cy="627" r="8"/><circle class="ls" cx="1365" cy="627" r="5"/><text class="lg" x="1384" y="627">Complex/Group</text>
<rect class="ls" x="1356" y="646" width="18" height="10" rx="5"/><text class="lg" x="1384" y="651">Chemical/Drug/Toxicant</text>
<rect class="ls" x="1357" y="670" width="16" height="16"/><text class="lg" x="1384" y="678">Cytokine</text>
<path class="ls" d="M1361,700h8v4h6v8h-6v4h-8v-4h-6v-8h6z"/><text class="lg" x="1384" y="707">Disease</text>
<path class="ls" d="M1365,727l6,7l-6,7l-6,-7z"/><text class="lg" x="1384" y="734">Enzyme</text>
<path class="ls" d="M1359,753h12l5,4v8l-5,4h-12l-5,-4v-8z"/><text class="lg" x="1384" y="761">Function</text>
<rect class="ls" x="1360" y="779" width="10" height="16"/><text class="lg" x="1384" y="787">G-protein Coupled Receptor</text>
<rect class="ls" x="1357" y="806" width="17" height="15" stroke-dasharray="3,2"/><text class="lg" x="1384" y="814">Growth Factor</text>
<rect class="ls" x="1360" y="834" width="10" height="16" stroke-dasharray="3,2"/><text class="lg" x="1384" y="842">Ion Channel</text>
<path class="ls" d="M1358,862h14l-7,12z"/><text class="lg" x="1384" y="868">Kinase</text>
<rect class="ls" x="1356" y="890" width="19" height="9"/><text class="lg" x="1384" y="895">Ligand-dependent Nuclear Receptor</text>
<path class="ls" d="M1356,918h19q-9,8 -19,0z"/><text class="lg" x="1384" y="921">Mature microRNA</text>
<path class="ls" d="M1356,940h19l-3,14h-13z"/><text class="lg" x="1384" y="947">microRNA</text>
<circle class="ls" cx="1365" cy="974" r="8"/><text class="lg" x="1384" y="974">Other</text>
<path class="ls" d="M1356,1002l9,-4l9,4l-9,4z"/><text class="lg" x="1384" y="1002">Peptidase</text>
<path class="ls" d="M1365,1022l9,14h-18z"/><text class="lg" x="1384" y="1030">Phosphatase</text>
<ellipse class="ls" cx="1365" cy="1059" rx="9" ry="5"/><text class="lg" x="1384" y="1059">Transcription Regulator</text>
<path class="ls" d="M1360,1077h10l4,7l-4,7h-10l-4,-7z"/><text class="lg" x="1384" y="1084">Translation Regulator</text>
<ellipse class="ls" cx="1365" cy="1110" rx="6" ry="8"/><text class="lg" x="1384" y="1110">Transmembrane Receptor</text>
<path class="ls" d="M1359,1129h12l4,14h-20z"/><text class="lg" x="1384" y="1136">Transporter</text>
</g>
</g>
</svg>
